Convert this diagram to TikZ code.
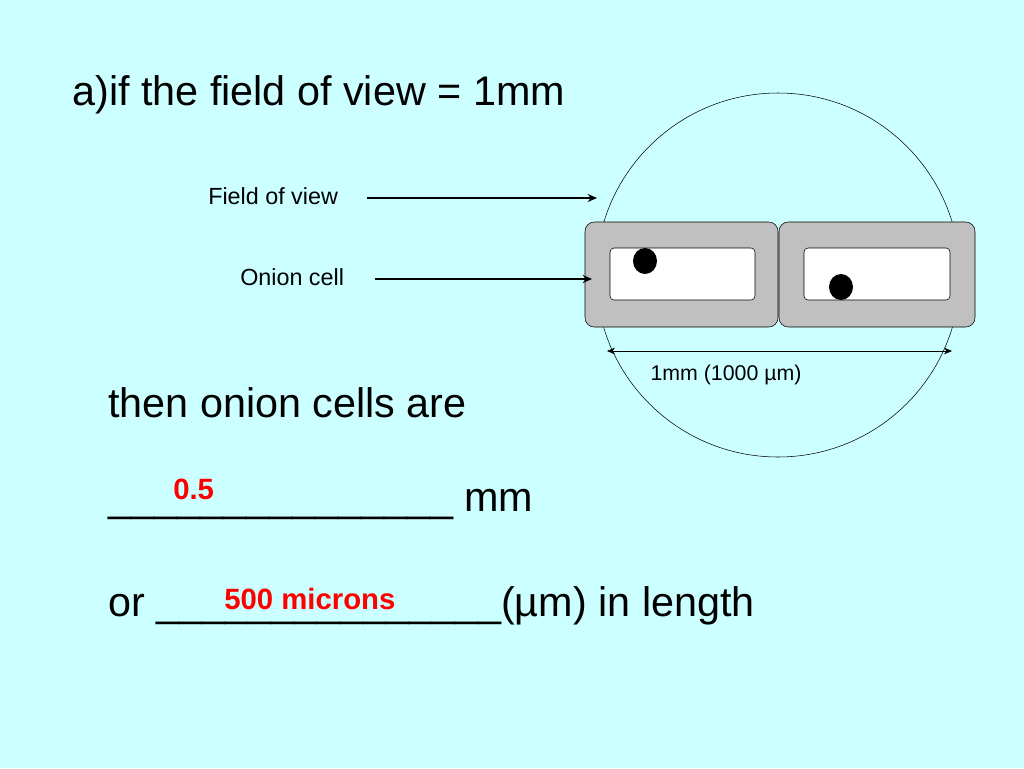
\documentclass[tikz,border=0pt]{standalone}
\usepackage{fontspec}
\usetikzlibrary{arrows.meta}
\setmainfont{Liberation Sans}
\definecolor{bg}{RGB}{204,255,255}
\definecolor{cellgray}{RGB}{192,192,192}
\begin{document}
\begin{tikzpicture}[x=0.75pt,y=-0.75pt,
 big/.style={font=\fontsize{31}{34}\selectfont,anchor=west,inner sep=0},
 lab/.style={font=\fontsize{17.5}{20}\selectfont,anchor=west,inner sep=0},
 red/.style={font=\fontsize{22}{25}\selectfont\bfseries,text=red,anchor=west,inner sep=0},
 cellout/.style={draw=black,fill=cellgray,rounded corners=7pt},
 cellin/.style={draw=black,fill=white,rounded corners=3pt},
 arr/.style={-{Stealth[length=7pt,width=6pt]},line width=2.2pt}]
\fill[bg] (0,0) rectangle (1024,768);
\useasboundingbox (0,0) rectangle (1024,768);
\node[big] (title) at (72,95) {a)if the field of view = 1mm};
\node[draw,circle,minimum size=273pt,inner sep=0] (fov) at (778,275) {};
\node[cellout,minimum width=144.75pt,minimum height=78.75pt] (c1) at (681.5,274.5) {};
\node[cellout,minimum width=147pt,minimum height=78.75pt] (c2) at (877,274.5) {};
\node[cellin,minimum width=108.75pt,minimum height=39pt] (i1) at (682.5,274) {};
\node[cellin,minimum width=109.5pt,minimum height=39pt] (i2) at (877,274) {};
\fill (645,261) ellipse (12 and 13);
\fill (841,287) ellipse (12 and 13);
\node[lab] (lf) at (208,196) {Field of view};
\node[lab] (lo) at (240,277) {Onion cell};
\coordinate (af) at (597,198);
\coordinate (ao) at (592,279);
\draw[arr] (367,198) -- (af);
\draw[arr] (375,279) -- (ao);
\coordinate (d1) at (607,351); \coordinate (d2) at (952,351);
\draw[{Stealth[length=6pt,width=5pt]}-{Stealth[length=6pt,width=5pt]}] (d1) -- (d2);
\node[font=\fontsize{16}{19}\selectfont,inner sep=0] (dl) at (726,375) {1mm (1000 µm)};
\node[big] (t1) at (108,403) {then onion cells are};
\node[big] (t2) at (108,504) {\_\_\_\_\_\_\_\_\_\_\_\_\_\_\_ mm};
\node[red] (r1) at (173,489) {0.5};
\node[big] (t3) at (108,606) {or \_\_\_\_\_\_\_\_\_\_\_\_\_\_\_(µm) in length};
\node[red] (r2) at (224,599) {500 microns};
\end{tikzpicture}
\end{document}
